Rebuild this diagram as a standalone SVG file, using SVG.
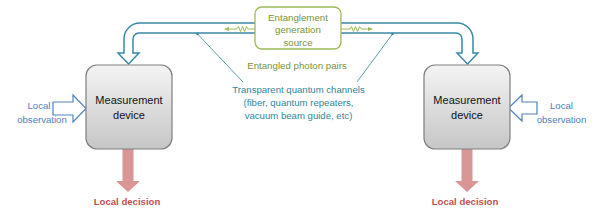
<svg xmlns="http://www.w3.org/2000/svg" width="602" height="223" viewBox="0 0 602 223">
<defs>
<linearGradient id="gray" x1="0" y1="0" x2="0" y2="1">
<stop offset="0" stop-color="#f4f4f4"/>
<stop offset="1" stop-color="#c6c6c6"/>
</linearGradient>
<marker id="ph" viewBox="0 0 6 6" refX="5" refY="3" markerWidth="5" markerHeight="5" orient="auto">
<path d="M0,0.5 L6,3 L0,5.5 Z" fill="#9bbb59"/>
</marker>
<marker id="dot" viewBox="0 0 4 4" refX="2" refY="2" markerWidth="4" markerHeight="4">
<circle cx="2" cy="2" r="1.6" fill="#31859c"/>
</marker>
<style>
text{font-family:"Liberation Sans",Arial,sans-serif;text-anchor:middle}
.g{fill:#77933c;font-size:9.7px}
.t{fill:#31859c;font-size:9.6px}
.o{fill:#4f81bd;font-size:9.6px}
.m{fill:#111;font-size:11px}
.d{fill:#c0504d;font-size:9.6px;font-weight:bold}
.dev{fill:url(#gray);stroke:#7f7f7f;stroke-width:1.2}
.obs{fill:#fff;stroke:#4f81bd;stroke-width:1.2}
.red{fill:#d99694}
.wave{fill:none;stroke:#9bbb59;stroke-width:1;marker-end:url(#ph)}
.lead{stroke:#31859c;stroke-width:0.8;fill:none;marker-end:url(#dot)}
</style>
</defs>
<g id="connectors">
<path id="channel" d="M128.5,64 L139,53 L133,53 L133,39 A6,6 0 0 1 139,33 L456,33 A6,6 0 0 1 462,39 L462,53 L457,53 L467.5,64 L478,53 L473,53 L473,39 A16,16 0 0 0 457,23 L140,23 A16,16 0 0 0 124,39 L124,53 L118,53 Z" fill="#fff" stroke="#3a87a8" stroke-width="1.5" stroke-linejoin="miter"/>
<path class="wave" d="M255,29 L248,29 L246.5,26.5 L244.5,31.5 L242.5,26.5 L240.5,31.5 L238.5,26.5 L236.5,29 L225,29"/>
<path class="wave" d="M341,29 L350,29 L351.5,26.5 L353.5,31.5 L355.5,26.5 L357.5,31.5 L359.5,26.5 L361.5,29 L372,29"/>
<path class="lead" d="M243,82 L197.5,34"/>
<path class="lead" d="M357,82 L392.5,34"/>
<path class="obs" d="M53,102 L73,102 L73,95 L86,108.5 L73,122 L73,115 L53,115 Z"/>
<path class="obs" d="M537,102 L522,102 L522,95 L508.5,108 L522,121 L522,114 L537,114 Z"/>
<path class="red" d="M122.5,149 L133.5,149 L133.5,181 L140,181 L128,192 L116,181 L122.5,181 Z"/>
<path class="red" d="M461.5,149 L472.5,149 L472.5,181 L479,181 L467,192 L455,181 L461.5,181 Z"/>
</g>
<g id="source">
<rect x="255" y="7" width="86" height="42" rx="7" fill="#fff" stroke="#9bbb59" stroke-width="1.3"/>
<text class="g" x="298" y="20.5">Entanglement</text>
<text class="g" x="298" y="33">generation</text>
<text class="g" x="298" y="45.5">source</text>
</g>
<g id="photon-label">
<text class="g" x="297" y="68.5">Entangled photon pairs</text>
</g>
<g id="channel-label">
<text class="t" x="298.5" y="92.5">Transparent quantum channels</text>
<text class="t" x="298.5" y="105.5">(fiber, quantum repeaters,</text>
<text class="t" x="298.5" y="118.5">vacuum beam guide, etc)</text>
</g>
<g id="device-left">
<rect class="dev" x="86" y="65" width="86" height="84" rx="11"/>
<text class="m" x="129" y="104">Measurement</text>
<text class="m" x="129" y="118.5">device</text>
</g>
<g id="device-right">
<rect class="dev" x="424" y="65" width="86" height="84" rx="11"/>
<text class="m" x="467" y="104">Measurement</text>
<text class="m" x="467" y="118.5">device</text>
</g>
<g id="obs-left">
<text class="o" x="39" y="108.5">Local</text>
<text class="o" x="42" y="122.5">observation</text>
</g>
<g id="obs-right">
<text class="o" x="561.5" y="108.5">Local</text>
<text class="o" x="561.5" y="122.5">observation</text>
</g>
<g id="decision-left">
<text class="d" x="127" y="205">Local decision</text>
</g>
<g id="decision-right">
<text class="d" x="465" y="205">Local decision</text>
</g>
</svg>
